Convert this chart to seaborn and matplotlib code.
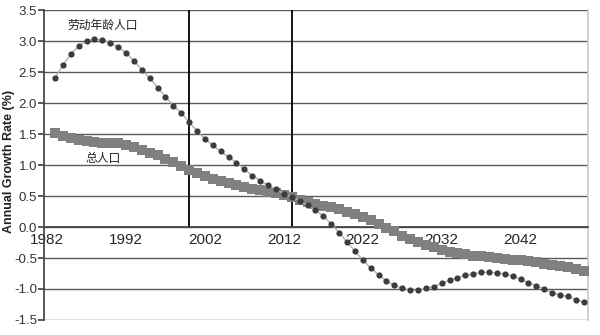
import numpy as np
import pandas as pd
import matplotlib
matplotlib.use("Agg")
import matplotlib.pyplot as plt
import seaborn as sns

years = list(range(1983, 2051))
labor_growth = [2.41, 2.61, 2.79, 2.92, 3.00, 3.03, 3.02, 2.97, 2.90, 2.81,
                2.68, 2.54, 2.40, 2.25, 2.10, 1.96, 1.84, 1.69, 1.55, 1.42,
                1.32, 1.22, 1.13, 1.04, 0.93, 0.83, 0.75, 0.67, 0.61, 0.54,
                0.49, 0.42, 0.35, 0.27, 0.18, 0.05, -0.09, -0.24, -0.39, -0.53,
                -0.66, -0.77, -0.87, -0.94, -0.99, -1.02, -1.02, -0.99, -0.96, -0.91,
                -0.86, -0.82, -0.78, -0.76, -0.73, -0.73, -0.74, -0.76, -0.79, -0.84,
                -0.90, -0.95, -1.00, -1.06, -1.10, -1.12, -1.17, -1.21]
total_growth = [1.52, 1.47, 1.43, 1.40, 1.38, 1.37, 1.36, 1.36, 1.35, 1.32,
                1.29, 1.25, 1.20, 1.16, 1.10, 1.05, 0.98, 0.92, 0.87, 0.82,
                0.78, 0.74, 0.71, 0.68, 0.65, 0.62, 0.60, 0.57, 0.545, 0.51,
                0.48, 0.44, 0.41, 0.37, 0.34, 0.32, 0.29, 0.25, 0.21, 0.16,
                0.11, 0.05, -0.01, -0.07, -0.14, -0.19, -0.24, -0.29, -0.33, -0.37,
                -0.40, -0.42, -0.44, -0.46, -0.475, -0.49, -0.50, -0.515, -0.525, -0.54,
                -0.555, -0.57, -0.59, -0.605, -0.63, -0.65, -0.68, -0.71]
x_ticks = [1982, 1992, 2002, 2012, 2022, 2032, 2042]
y_ticks = [-1.5, -1.0, -0.5, 0.0, 0.5, 1.0, 1.5, 2.0, 2.5, 3.0, 3.5]
marker_years = [2000, 2013]
label_labor = "劳动年龄人口"
label_total = "总人口"

sns.set_theme(style="white")
plt.rcParams['font.family'] = ['Liberation Sans', 'Noto Sans CJK SC', 'DejaVu Sans']
plt.rcParams['axes.unicode_minus'] = False

df_labor = pd.DataFrame({"year": years, "rate": labor_growth})
df_total = pd.DataFrame({"year": years, "rate": total_growth})

fig = plt.figure(figsize=(6.0, 3.35), dpi=100)
ax = fig.add_axes([0.0733, 0.0448, 0.9067, 0.9252])

for y in y_ticks:
    ax.axhline(y, color="#5a5a5a", lw=1.0, zorder=1)

sns.lineplot(data=df_total, x="year", y="rate", ax=ax, color="#808080",
             marker="s", markersize=7.5, markeredgewidth=0, lw=1.5, zorder=3)
sns.lineplot(data=df_labor, x="year", y="rate", ax=ax, color="#b0b0b0",
             lw=1.0, zorder=4)
sns.scatterplot(data=df_labor, x="year", y="rate", ax=ax, color="#3c3c3c",
                marker="o", s=20, linewidth=0, zorder=5)

ax.set_xlim(1981.6, 2050.55)
ax.set_ylim(-1.5, 3.5)

for yr in marker_years:
    ax.axvline(yr, ymin=0.3, ymax=1.0, color="black", lw=1.3, zorder=2)

ax.set_yticks(y_ticks)
ax.set_yticklabels([f"{v:.1f}" for v in y_ticks], color="#333333", fontsize=9.5)
ax.set_xticks(x_ticks)
ax.set_xticklabels([str(v) for v in x_ticks], color="#333333", fontsize=9)

ax.spines['bottom'].set_position(('data', 0))
ax.spines['bottom'].set_color("#444444")
ax.spines['left'].set_color("#444444")
ax.spines['top'].set_visible(False)
ax.spines['right'].set_color("#cccccc")
ax.tick_params(axis='x', direction='inout', length=4, color="#444444", pad=2)
ax.tick_params(axis='y', direction='out', length=4, color="#444444", pad=1, left=True)

ax.set_xlabel("")
ax.set_ylabel("Annual Growth Rate (%)", fontsize=9, fontweight="bold",
              color="#222222")
ax.yaxis.set_label_coords(-0.053, 0.513)

ax.text(1984.6, 3.25, label_labor, fontsize=8.5, color="#222222", va="center",
        ha="left", family=['Noto Sans CJK SC', 'DejaVu Sans'])
ax.text(1986.9, 1.11, label_total, fontsize=8.5, color="#222222", va="center",
        ha="left", family=['Noto Sans CJK SC', 'DejaVu Sans'])

fig.savefig("out.png", dpi=100)
